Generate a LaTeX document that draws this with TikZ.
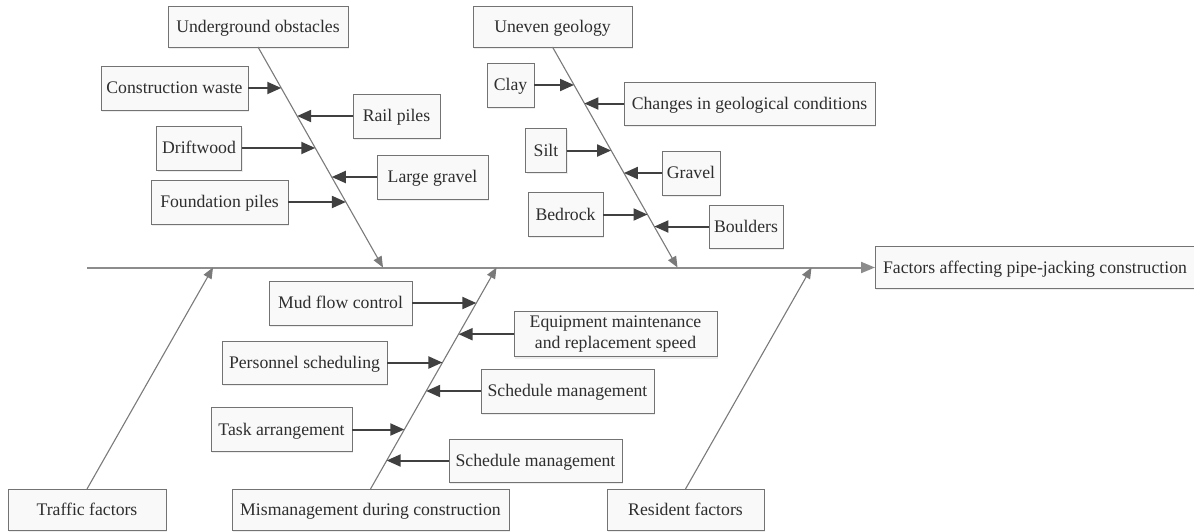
\documentclass[tikz,border=0pt]{standalone}
\usepackage{fontspec}
\setmainfont{Liberation Serif}[Ligatures=TeX]
\usetikzlibrary{arrows.meta,calc,shadows}
\definecolor{FishInk}{gray}{0.18}
\definecolor{FishFrame}{gray}{0.45}
\definecolor{FishPaper}{gray}{0.975}
\definecolor{FishShadow}{gray}{0.86}
\definecolor{FishBone}{gray}{0.48}
\definecolor{FishSpine}{gray}{0.55}
\definecolor{FishArrow}{gray}{0.25}
\tikzset{
    fish/diagram/.style={
        font=\rmfamily\fontsize{17.7}{21}\selectfont,
        text=FishInk,
        line join=miter,
        every node/.style={inner sep=0pt, outer sep=0pt}
    },
    fish/cause/.style={
        draw=FishFrame, fill=FishPaper, line width=1pt,
        align=center, minimum height=44pt,
        text height=12.6pt, text depth=1.2pt,
        drop shadow={shadow xshift=1.2pt, shadow yshift=-1.8pt, fill=FishShadow}
    },
    fish/spine/.style={
        draw=FishSpine, line width=2pt,
        -{Triangle[length=14pt, width=11pt]}
    },
    fish/bone/.style={
        draw=FishBone, line width=1.1pt,
        -{Triangle[length=11pt, width=9pt]}
    },
    fish/sub/.style={
        draw=FishArrow, line width=2pt,
        -{Triangle[length=14pt, width=12pt]}
    }
}

\begin{document}
\begin{tikzpicture}[fish/diagram, x=1pt, y=-1pt]
    \useasboundingbox (0,0) rectangle (1194,531);
    % main causes above the spine
    \node[fish/cause, minimum width=180pt, minimum height=41pt] (uo) at (258,26.5) {Underground obstacles};
    \node[fish/cause, minimum width=159pt, minimum height=41pt] (ug) at (552.5,26.5) {Uneven geology};
    % main causes below the spine
    \node[fish/cause, minimum width=158pt, minimum height=41pt] (tf) at (87,509.5) {Traffic factors};
    \node[fish/cause, minimum width=277pt, minimum height=41pt] (mm) at (370.5,509.5) {Mismanagement during construction};
    \node[fish/cause, minimum width=157pt, minimum height=41pt] (rf) at (685.5,509.5) {Resident factors};
    % effect
    \node[fish/cause, minimum width=320pt, minimum height=42pt] (ef) at (1035,267.5) {Factors affecting pipe-jacking construction};
    % sub causes: underground obstacles
    \node[fish/cause, minimum width=147pt] (cw) at (174.5,88) {Construction waste};
    \node[fish/cause, minimum width=87pt] (rp) at (396.5,116) {Rail piles};
    \node[fish/cause, minimum width=85pt] (dw) at (199,148) {Driftwood};
    \node[fish/cause, minimum width=111pt] (lg) at (432.5,177) {Large gravel};
    \node[fish/cause, minimum width=137pt] (fp) at (219.5,202) {Foundation piles};
    % sub causes: uneven geology
    \node[fish/cause, minimum width=47pt] (cl) at (510.5,85) {Clay};
    \node[fish/cause, minimum width=251pt, minimum height=43pt] (cg) at (749.5,103.5) {Changes in geological conditions};
    \node[fish/cause, minimum width=41pt] (si) at (546,150.5) {Silt};
    \node[fish/cause, minimum width=58pt] (gr) at (691,173) {Gravel};
    \node[fish/cause, minimum width=75pt] (br) at (565.5,214.5) {Bedrock};
    \node[fish/cause, minimum width=74pt, minimum height=43pt] (bo) at (746,226.5) {Boulders};
    % sub causes: mismanagement
    \node[fish/cause, minimum width=143pt] (mf) at (340.5,303) {Mud flow control};
    \node[fish/cause, minimum width=203pt, minimum height=45pt, text height={}, text depth={}] (em) at (615.5,334.2) {Equipment maintenance\\and replacement speed};
    \node[fish/cause, minimum width=165pt, minimum height=43pt] (ps) at (304.5,362.5) {Personnel scheduling};
    \node[fish/cause, minimum width=173pt] (sa) at (567.5,391) {Schedule management};
    \node[fish/cause, minimum width=141pt] (ta) at (281.5,429.5) {Task arrangement};
    \node[fish/cause, minimum width=173pt, minimum height=43pt] (sb) at (535.5,460.5) {Schedule management};

    % spine and bones
    \coordinate (spineStart) at (87,267.5);
    \draw[fish/spine] (spineStart) -- (ef.west);
    \foreach \n in {uo,ug} {
        \coordinate (\n Tip) at ($(\n.south)+(125,220.5)$);
        \draw[fish/bone] (\n.south) -- (\n Tip);
    }
    \foreach \n in {tf,mm,rf} {
        \coordinate (\n Tip) at ($(\n.north)+(126,-221.5)$);
        \draw[fish/bone] (\n.north) -- (\n Tip);
    }

    % sub cause arrows onto the bones
    \foreach \n/\a/\f in {cw/east/0.186, rp/west/0.313, dw/east/0.458, lg/west/0.590, fp/east/0.703} {
        \coordinate (\n End) at ($(uo.south)!\f!(uoTip)$);
        \draw[fish/sub] (\n.\a) -- (\n.\a -| \n End);
    }
    \foreach \n/\a/\f in {cl/east/0.172, cg/west/0.255, si/east/0.469, gr/west/0.571, br/east/0.760, bo/west/0.815} {
        \coordinate (\n End) at ($(ug.south)!\f!(ugTip)$);
        \draw[fish/sub] (\n.\a) -- (\n.\a -| \n End);
    }
    \foreach \n/\a/\f in {mf/east/0.840, em/west/0.699, ps/east/0.571, sa/west/0.4415, ta/east/0.2686, sb/west/0.128} {
        \coordinate (\n End) at ($(mm.north)!\f!(mmTip)$);
        \draw[fish/sub] (\n.\a) -- (\n.\a -| \n End);
    }
\end{tikzpicture}
\end{document}
